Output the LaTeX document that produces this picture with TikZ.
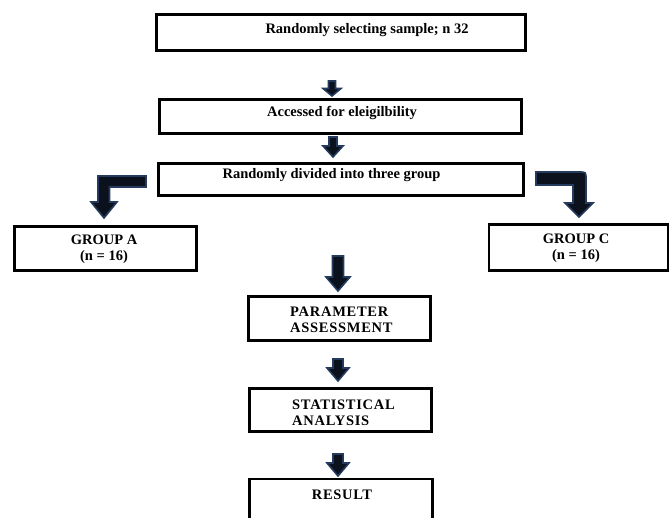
\documentclass[tikz,border=0pt]{standalone}
\usepackage{fontspec}
\setmainfont{Liberation Serif}
\definecolor{arrowfill}{HTML}{0B111D}
\definecolor{arrowedge}{HTML}{243B5E}
\begin{document}
\begin{tikzpicture}[x=1pt,y=-1pt,
  box/.style={draw=black, line width=2.8pt, fill=white, inner sep=0pt},
  txt/.style={font=\fontsize{14.5}{16}\selectfont\bfseries, inner sep=0pt, align=center},
  captxt/.style={font=\fontsize{14.5}{16}\selectfont\bfseries\addfontfeatures{LetterSpace=5}, inner sep=0pt},
  blk/.style={fill=arrowfill, draw=arrowedge, line width=1.6pt, line join=miter}]
\useasboundingbox (0,0) rectangle (670,518);
% boxes
\node[box, minimum width=369, minimum height=36] (b1) at (341,32.5) {};
\node[box, minimum width=362, minimum height=34] (b2) at (340.5,116.5) {};
\node[box, minimum width=365, minimum height=32] (b3) at (341,179.5) {};
\node[box, minimum width=182, minimum height=44] (bA) at (105.5,248.5) {};
\node[box, minimum width=179, minimum height=46] (bC) at (578.5,247.5) {};
\node[box, minimum width=182, minimum height=44] (bP) at (339.5,318.5) {};
\node[box, minimum width=182, minimum height=43] (bS) at (340.5,410) {};
\node[box, minimum width=183, minimum height=60] (bR) at (341,509) {};
% texts
\node[txt] (t1) at (367,30) {Randomly selecting sample; n 32};
\node[txt] (t2) at (342,113) {Accessed for eleigilbility};
\node[txt] (t3) at (331.5,175) {Randomly divided into three group};
\node[txt] (tA) at (104,249) {GROUP A\\(n = 16)};
\node[txt] (tC) at (576,248) {GROUP C\\(n = 16)};
\node[captxt, align=left, anchor=west] (tP) at (290,319.5) {PARAMETER\\ASSESSMENT};
\node[captxt, align=left, anchor=west] (tS) at (292,413) {STATISTICAL\\ANALYSIS};
\node[captxt] (tR) at (342,495) {RESULT};
% straight block arrows
\newcommand\vblk[6]{%
  \filldraw[blk] ({#1-#5},#2) -- ({#1+#5},#2) -- ({#1+#5},#3) -- ({#1+#6},#3) -- (#1,#4) -- ({#1-#6},#3) -- ({#1-#5},#3) -- cycle;}
\vblk{332}{81}{88.5}{96}{3.5}{9}
\vblk{333}{137}{146}{157}{4}{10}
\vblk{338}{256}{277}{291}{5.5}{12}
\vblk{338}{359}{368}{381}{5}{11}
\vblk{338}{454}{463}{476}{5}{11}
% elbow arrows
\filldraw[blk] (146,176) -- (98,176) -- (98,202) -- (91,202) -- (104,218) -- (117,202) -- (109.5,202) -- (109.5,187) -- (146,187) -- cycle;
\filldraw[blk] (536,172) -- (579,172) .. controls (586,172) .. (586,179) -- (586,203) -- (593,203) -- (579,217) -- (565,203) -- (573,203) -- (573,185) -- (536,185) -- cycle;
\end{tikzpicture}
\end{document}
